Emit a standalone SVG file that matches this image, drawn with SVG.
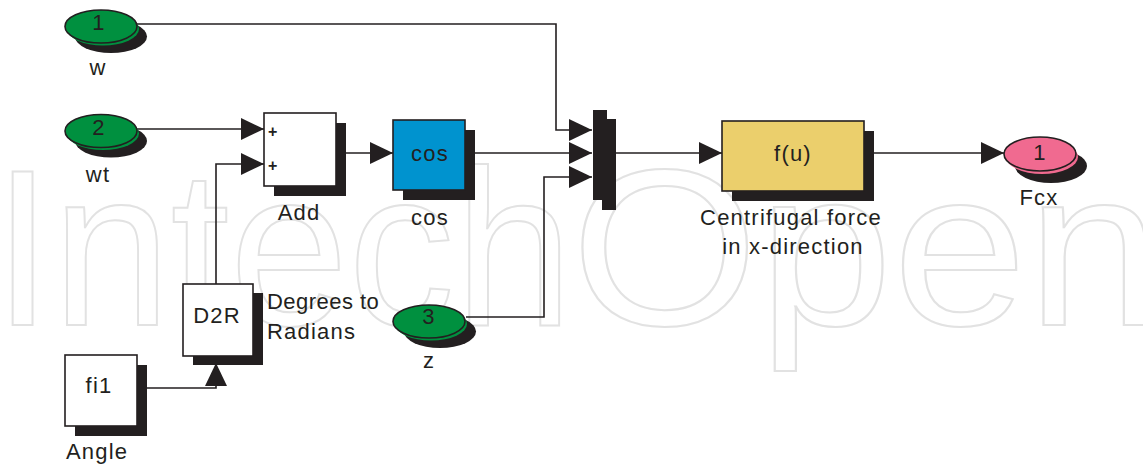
<svg xmlns="http://www.w3.org/2000/svg" width="1143" height="469" viewBox="0 0 1143 469">
<style>
text{font-family:"Liberation Sans",Arial,sans-serif;font-size:22px;fill:#231f20;letter-spacing:1.2px}
.c{text-anchor:middle}
.wm{fill:none;stroke:#e2e2e2;stroke-width:2;font-size:223px;letter-spacing:0}
.blk{stroke:#231f20;stroke-width:1.6}
.sh{fill:#231f20}
.wire{fill:none;stroke:#231f20;stroke-width:1.6}
.g{fill:#00903f}
.p{fill:#f06a90}
.ol{stroke:#231f20;stroke-width:1.6}
</style>
<defs>
<marker id="ah" viewBox="0 0 23 22" refX="23" refY="11" markerWidth="23" markerHeight="22" markerUnits="userSpaceOnUse" orient="auto">
<path d="M0,0 L23,11 L0,22 Z" fill="#231f20"/>
</marker>
</defs>
<rect width="1143" height="469" fill="#ffffff"/>
<g id="watermark">
<text class="wm" x="-7" y="325" textLength="580" lengthAdjust="spacingAndGlyphs">Intech</text>
<text class="wm" x="571" y="325" textLength="590" lengthAdjust="spacingAndGlyphs">Open</text>
</g>

<g id="connectors">
<path class="wire" d="M137,24 H556 V130 H592" marker-end="url(#ah)"/>
<path class="wire" d="M137,129 H264" marker-end="url(#ah)"/>
<path class="wire" d="M216,284 V164 H264" marker-end="url(#ah)"/>
<path class="wire" d="M336,153 H393" marker-end="url(#ah)"/>
<path class="wire" d="M465,153 H592" marker-end="url(#ah)"/>
<path class="wire" d="M466,317 H544 V177 H592" marker-end="url(#ah)"/>
<path class="wire" d="M607,153 H722" marker-end="url(#ah)"/>
<path class="wire" d="M864,153 H1004" marker-end="url(#ah)"/>
<path class="wire" d="M137,388 H216 V363" marker-end="url(#ah)"/>
</g>

<g id="in1">
<ellipse class="sh" cx="111" cy="36.5" rx="36" ry="16.5"/>
<ellipse class="g" cx="103" cy="29" rx="36" ry="16.5"/>
<ellipse class="g ol" cx="101" cy="26.5" rx="36" ry="16.5"/>
<text class="c" x="99" y="30">1</text>
<text class="c" x="98" y="75">w</text>
</g>

<g id="in2">
<ellipse class="sh" cx="111" cy="141" rx="36" ry="16.5"/>
<ellipse class="g" cx="103" cy="133.5" rx="36" ry="16.5"/>
<ellipse class="g ol" cx="101" cy="131" rx="36" ry="16.5"/>
<text class="c" x="99" y="135">2</text>
<text class="c" x="98" y="182">wt</text>
</g>

<g id="add">
<rect class="sh" x="274" y="123" width="72" height="73"/>
<rect class="blk" x="264" y="113" width="72" height="73" fill="#ffffff"/>
<text x="268" y="137" style="font-size:16px;font-weight:bold">+</text>
<text x="268" y="171" style="font-size:16px;font-weight:bold">+</text>
<text class="c" x="299" y="220">Add</text>
</g>

<g id="cos">
<rect class="sh" x="403" y="130" width="72" height="70"/>
<rect class="blk" x="393" y="120" width="72" height="70" fill="#0093cf"/>
<text class="c" x="430" y="161">cos</text>
<text class="c" x="430" y="225">cos</text>
</g>

<g id="mux">
<rect class="sh" x="602" y="119" width="14" height="91"/>
<rect class="sh" x="593" y="110" width="14" height="90"/>
</g>

<g id="fcn">
<rect class="sh" x="732" y="131" width="142" height="70"/>
<rect class="blk" x="722" y="121" width="142" height="70" fill="#ebcf6c"/>
<text class="c" x="793" y="161">f(u)</text>
<text class="c" x="791" y="225">Centrifugal force</text>
<text class="c" x="793" y="254">in x-direction</text>
</g>

<g id="out1">
<ellipse class="sh" cx="1051" cy="166" rx="36" ry="17"/>
<ellipse class="p" cx="1042" cy="157" rx="36" ry="17"/>
<ellipse class="p ol" cx="1040" cy="154" rx="36" ry="17"/>
<text class="c" x="1040" y="160">1</text>
<text class="c" x="1039" y="205">Fcx</text>
</g>

<g id="d2r">
<rect class="sh" x="193" y="293" width="70" height="72"/>
<rect class="blk" x="183" y="284" width="70" height="72" fill="#ffffff"/>
<text class="c" x="217" y="323">D2R</text>
<text x="267" y="309" textLength="113">Degrees to</text>
<text x="267" y="339">Radians</text>
</g>

<g id="in3">
<ellipse class="sh" cx="440" cy="331.5" rx="36" ry="16.5"/>
<ellipse class="g" cx="431" cy="324" rx="36" ry="16.5"/>
<ellipse class="g ol" cx="429" cy="321.5" rx="36" ry="16.5"/>
<text class="c" x="429" y="324">3</text>
<text class="c" x="429" y="368">z</text>
</g>

<g id="angle">
<rect class="sh" x="75" y="365" width="72" height="71"/>
<rect class="blk" x="65" y="355" width="72" height="71" fill="#ffffff"/>
<text class="c" x="99" y="393">fi1</text>
<text x="66" y="459">Angle</text>
</g>
</svg>
